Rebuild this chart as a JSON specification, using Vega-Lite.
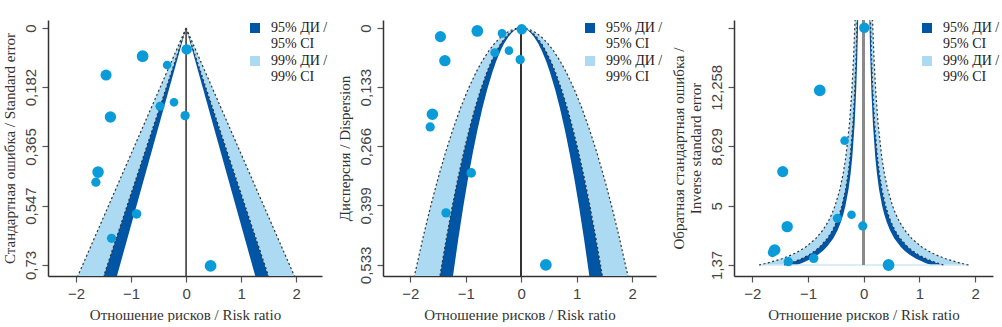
{
  "$schema": "https://vega.github.io/schema/vega-lite/v6.json",
  "padding": {"left": 1, "top": 17, "right": 0, "bottom": 0},
  "spacing": 8,
  "datasets": {
    "studies": [
      {"rr": 0.01, "se": 0.066, "var": 0.003, "inv": 15.9, "w": 11.3},
      {"rr": -0.79, "se": 0.087, "var": 0.0067, "inv": 12.07, "w": 12.7},
      {"rr": -0.345, "se": 0.114, "var": 0.012, "inv": 8.985, "w": 9.3},
      {"rr": -1.455, "se": 0.145, "var": 0.0195, "inv": 7.09, "w": 12},
      {"rr": -0.22, "se": 0.229, "var": 0.051, "inv": 4.45, "w": 9.3},
      {"rr": -0.475, "se": 0.241, "var": 0.0555, "inv": 4.23, "w": 9.7},
      {"rr": -0.018, "se": 0.27, "var": 0.0712, "inv": 3.76, "w": 10},
      {"rr": -1.375, "se": 0.274, "var": 0.0735, "inv": 3.72, "w": 12.3},
      {"rr": -1.6, "se": 0.444, "var": 0.194, "inv": 2.29, "w": 12.5},
      {"rr": -1.64, "se": 0.475, "var": 0.2226, "inv": 2.13, "w": 10},
      {"rr": -0.9, "se": 0.573, "var": 0.326, "inv": 1.78, "w": 10.3},
      {"rr": -1.355, "se": 0.648, "var": 0.416, "inv": 1.57, "w": 10},
      {"rr": 0.445, "se": 0.733, "var": 0.533, "inv": 1.37, "w": 12.7}
    ],
    "f1": [
      {"y": 0, "o_l": 0, "n_l": 0, "i_l": 0, "i_r": 0, "n_r": 0, "o_r": 0},
      {"y": 0.764, "o_l": -1.968, "n_l": -1.497, "i_l": -1.257, "i_r": 1.257, "n_r": 1.497, "o_r": 1.968}
    ],
    "f2": [
      {"y": 0, "o_l": 0, "n_l": 0, "i_l": 0, "i_r": 0, "n_r": 0, "o_r": 0},
      {"y": 0.0005, "o_l": -0.0576, "n_l": -0.0438, "i_l": -0.0368, "i_r": 0.0368, "n_r": 0.0438, "o_r": 0.0576},
      {"y": 0.001, "o_l": -0.0815, "n_l": -0.062, "i_l": -0.052, "i_r": 0.052, "n_r": 0.062, "o_r": 0.0815},
      {"y": 0.002, "o_l": -0.1152, "n_l": -0.0877, "i_l": -0.0736, "i_r": 0.0736, "n_r": 0.0877, "o_r": 0.1152},
      {"y": 0.005, "o_l": -0.1821, "n_l": -0.1386, "i_l": -0.1163, "i_r": 0.1163, "n_r": 0.1386, "o_r": 0.1821},
      {"y": 0.01, "o_l": -0.2576, "n_l": -0.196, "i_l": -0.1645, "i_r": 0.1645, "n_r": 0.196, "o_r": 0.2576},
      {"y": 0.02, "o_l": -0.3643, "n_l": -0.2772, "i_l": -0.2326, "i_r": 0.2326, "n_r": 0.2772, "o_r": 0.3643},
      {"y": 0.035, "o_l": -0.4819, "n_l": -0.3667, "i_l": -0.3077, "i_r": 0.3077, "n_r": 0.3667, "o_r": 0.4819},
      {"y": 0.05, "o_l": -0.576, "n_l": -0.4383, "i_l": -0.3678, "i_r": 0.3678, "n_r": 0.4383, "o_r": 0.576},
      {"y": 0.075, "o_l": -0.7055, "n_l": -0.5368, "i_l": -0.4505, "i_r": 0.4505, "n_r": 0.5368, "o_r": 0.7055},
      {"y": 0.1, "o_l": -0.8146, "n_l": -0.6198, "i_l": -0.5202, "i_r": 0.5202, "n_r": 0.6198, "o_r": 0.8146},
      {"y": 0.14, "o_l": -0.9639, "n_l": -0.7334, "i_l": -0.6155, "i_r": 0.6155, "n_r": 0.7334, "o_r": 0.9639},
      {"y": 0.18, "o_l": -1.0929, "n_l": -0.8316, "i_l": -0.6979, "i_r": 0.6979, "n_r": 0.8316, "o_r": 1.0929},
      {"y": 0.23, "o_l": -1.2354, "n_l": -0.94, "i_l": -0.7889, "i_r": 0.7889, "n_r": 0.94, "o_r": 1.2354},
      {"y": 0.28, "o_l": -1.3631, "n_l": -1.0371, "i_l": -0.8705, "i_r": 0.8705, "n_r": 1.0371, "o_r": 1.3631},
      {"y": 0.34, "o_l": -1.5021, "n_l": -1.1429, "i_l": -0.9592, "i_r": 0.9592, "n_r": 1.1429, "o_r": 1.5021},
      {"y": 0.4, "o_l": -1.6292, "n_l": -1.2396, "i_l": -1.0404, "i_r": 1.0404, "n_r": 1.2396, "o_r": 1.6292},
      {"y": 0.47, "o_l": -1.766, "n_l": -1.3437, "i_l": -1.1278, "i_r": 1.1278, "n_r": 1.3437, "o_r": 1.766},
      {"y": 0.558, "o_l": -1.9242, "n_l": -1.4641, "i_l": -1.2288, "i_r": 1.2288, "n_r": 1.4641, "o_r": 1.9242}
    ],
    "f3": [
      {"y": 1.37, "o_l": -1.8803, "n_l": -1.4307, "i_l": -1.2007, "i_r": 1.2007, "n_r": 1.4307, "o_r": 1.8803},
      {"y": 1.5, "o_l": -1.7173, "n_l": -1.3067, "i_l": -1.0967, "i_r": 1.0967, "n_r": 1.3067, "o_r": 1.7173},
      {"y": 1.75, "o_l": -1.472, "n_l": -1.12, "i_l": -0.94, "i_r": 0.94, "n_r": 1.12, "o_r": 1.472},
      {"y": 2, "o_l": -1.288, "n_l": -0.98, "i_l": -0.8225, "i_r": 0.8225, "n_r": 0.98, "o_r": 1.288},
      {"y": 2.25, "o_l": -1.1449, "n_l": -0.8711, "i_l": -0.7311, "i_r": 0.7311, "n_r": 0.8711, "o_r": 1.1449},
      {"y": 2.5, "o_l": -1.0304, "n_l": -0.784, "i_l": -0.658, "i_r": 0.658, "n_r": 0.784, "o_r": 1.0304},
      {"y": 3, "o_l": -0.8587, "n_l": -0.6533, "i_l": -0.5483, "i_r": 0.5483, "n_r": 0.6533, "o_r": 0.8587},
      {"y": 3.5, "o_l": -0.736, "n_l": -0.56, "i_l": -0.47, "i_r": 0.47, "n_r": 0.56, "o_r": 0.736},
      {"y": 4, "o_l": -0.644, "n_l": -0.49, "i_l": -0.4113, "i_r": 0.4113, "n_r": 0.49, "o_r": 0.644},
      {"y": 4.5, "o_l": -0.5724, "n_l": -0.4356, "i_l": -0.3656, "i_r": 0.3656, "n_r": 0.4356, "o_r": 0.5724},
      {"y": 5, "o_l": -0.5152, "n_l": -0.392, "i_l": -0.329, "i_r": 0.329, "n_r": 0.392, "o_r": 0.5152},
      {"y": 6, "o_l": -0.4293, "n_l": -0.3267, "i_l": -0.2742, "i_r": 0.2742, "n_r": 0.3267, "o_r": 0.4293},
      {"y": 7, "o_l": -0.368, "n_l": -0.28, "i_l": -0.235, "i_r": 0.235, "n_r": 0.28, "o_r": 0.368},
      {"y": 8, "o_l": -0.322, "n_l": -0.245, "i_l": -0.2056, "i_r": 0.2056, "n_r": 0.245, "o_r": 0.322},
      {"y": 10, "o_l": -0.2576, "n_l": -0.196, "i_l": -0.1645, "i_r": 0.1645, "n_r": 0.196, "o_r": 0.2576},
      {"y": 12, "o_l": -0.2147, "n_l": -0.1633, "i_l": -0.1371, "i_r": 0.1371, "n_r": 0.1633, "o_r": 0.2147},
      {"y": 14, "o_l": -0.184, "n_l": -0.14, "i_l": -0.1175, "i_r": 0.1175, "n_r": 0.14, "o_r": 0.184},
      {"y": 16.377, "o_l": -0.1573, "n_l": -0.1197, "i_l": -0.1004, "i_r": 0.1004, "n_r": 0.1197, "o_r": 0.1573}
    ]
  },
  "resolve": {"scale": {"color": "independent", "size": "independent"}, "legend": {"color": "independent"}},
  "hconcat": [
    {
      "width": 274, "height": 256,
      "layer": [
        {"data": {"name": "f1"}, "mark": {"type": "area", "orient": "horizontal"},
         "encoding": {
           "y": {"field": "y", "type": "quantitative", "scale": {"domain": [-0.0246, 0.764], "reverse": true, "nice": false, "zero": false},
                 "axis": {"values": [0, 0.182, 0.365, 0.547, 0.73], "format": ".3~f", "labelExpr": "replace(datum.label, '.', ',')", "labelAngle": -90, "title": "Стандартная ошибка / Standard error"}},
           "x": {"field": "o_l", "type": "quantitative", "scale": {"domain": [-2.51, 2.47], "nice": false, "zero": false},
                 "axis": {"values": [-2, -1, 0, 1, 2], "format": "d", "title": "Отношение рисков / Risk ratio"}},
           "x2": {"field": "n_l"},
           "color": {"datum": "99", "scale": {"domain": ["95", "99"], "range": ["#0055a5", "#abdaf2"]},
                     "legend": {"orient": "none", "legendX": 200, "legendY": 1, "labelExpr": "datum.label == '95' ? ['95% ДИ /', '95% CI'] : ['99% ДИ /', '99% CI']"}}
         }},
        {"data": {"name": "f1"}, "mark": {"type": "area", "orient": "horizontal"},
         "encoding": {"y": {"field": "y", "type": "quantitative"}, "x": {"field": "n_l", "type": "quantitative"}, "x2": {"field": "i_l"}, "color": {"datum": "95"}}},
        {"data": {"name": "f1"}, "mark": {"type": "area", "orient": "horizontal"},
         "encoding": {"y": {"field": "y", "type": "quantitative"}, "x": {"field": "i_r", "type": "quantitative"}, "x2": {"field": "n_r"}, "color": {"datum": "95"}}},
        {"data": {"name": "f1"}, "mark": {"type": "area", "orient": "horizontal"},
         "encoding": {"y": {"field": "y", "type": "quantitative"}, "x": {"field": "n_r", "type": "quantitative"}, "x2": {"field": "o_r"}, "color": {"datum": "99"}}},
        {"data": {"name": "f1"}, "mark": {"type": "line", "color": "#333", "strokeWidth": 1.2, "strokeDash": [2, 2.5]},
         "encoding": {"y": {"field": "y", "type": "quantitative"}, "x": {"field": "o_l", "type": "quantitative"}, "order": {"field": "y"}}},
        {"data": {"name": "f1"}, "mark": {"type": "line", "color": "#333", "strokeWidth": 1.2, "strokeDash": [2, 2.5]},
         "encoding": {"y": {"field": "y", "type": "quantitative"}, "x": {"field": "n_l", "type": "quantitative"}, "order": {"field": "y"}}},
        {"data": {"name": "f1"}, "mark": {"type": "line", "color": "#333", "strokeWidth": 1.2, "strokeDash": [2, 2.5]},
         "encoding": {"y": {"field": "y", "type": "quantitative"}, "x": {"field": "n_r", "type": "quantitative"}, "order": {"field": "y"}}},
        {"data": {"name": "f1"}, "mark": {"type": "line", "color": "#333", "strokeWidth": 1.2, "strokeDash": [2, 2.5]},
         "encoding": {"y": {"field": "y", "type": "quantitative"}, "x": {"field": "o_r", "type": "quantitative"}, "order": {"field": "y"}}},
        {"data": {"name": "f1"}, "mark": {"type": "rule", "color": "#444", "strokeWidth": 1.2},
         "encoding": {"x": {"datum": 0, "type": "quantitative"}, "y": {"datum": 0, "type": "quantitative"}, "y2": {"datum": 0.764}}},
        {"data": {"name": "studies"}, "mark": {"type": "circle", "color": "#0b9bd8", "opacity": 1},
         "encoding": {"x": {"field": "rr", "type": "quantitative"}, "y": {"field": "se", "type": "quantitative"},
                      "size": {"field": "w", "type": "quantitative", "scale": {"type": "pow", "exponent": 2, "domain": [0, 13], "range": [0, 145]}, "legend": null}}}
      ]
    },
    {
      "width": 273, "height": 256,
      "layer": [
        {"data": {"name": "f2"}, "mark": {"type": "area", "orient": "horizontal"},
         "encoding": {
           "y": {"field": "y", "type": "quantitative", "scale": {"domain": [-0.018, 0.558], "reverse": true, "nice": false, "zero": false},
                 "axis": {"values": [0, 0.133, 0.266, 0.399, 0.533], "format": ".3~f", "labelExpr": "replace(datum.label, '.', ',')", "labelAngle": -90, "title": "Дисперсия / Dispersion"}},
           "x": {"field": "o_l", "type": "quantitative", "scale": {"domain": [-2.49, 2.43], "nice": false, "zero": false},
                 "axis": {"values": [-2, -1, 0, 1, 2], "format": "d", "title": "Отношение рисков / Risk ratio"}},
           "x2": {"field": "n_l"},
           "color": {"datum": "99", "scale": {"domain": ["95", "99"], "range": ["#0055a5", "#abdaf2"]},
                     "legend": {"orient": "none", "legendX": 200, "legendY": 1, "labelExpr": "datum.label == '95' ? ['95% ДИ /', '95% CI'] : ['99% ДИ /', '99% CI']"}}
         }},
        {"data": {"name": "f2"}, "mark": {"type": "area", "orient": "horizontal"},
         "encoding": {"y": {"field": "y", "type": "quantitative"}, "x": {"field": "n_l", "type": "quantitative"}, "x2": {"field": "i_l"}, "color": {"datum": "95"}}},
        {"data": {"name": "f2"}, "mark": {"type": "area", "orient": "horizontal"},
         "encoding": {"y": {"field": "y", "type": "quantitative"}, "x": {"field": "i_r", "type": "quantitative"}, "x2": {"field": "n_r"}, "color": {"datum": "95"}}},
        {"data": {"name": "f2"}, "mark": {"type": "area", "orient": "horizontal"},
         "encoding": {"y": {"field": "y", "type": "quantitative"}, "x": {"field": "n_r", "type": "quantitative"}, "x2": {"field": "o_r"}, "color": {"datum": "99"}}},
        {"data": {"name": "f2"}, "mark": {"type": "line", "color": "#333", "strokeWidth": 1.2, "strokeDash": [2, 2.5]},
         "encoding": {"y": {"field": "y", "type": "quantitative"}, "x": {"field": "o_l", "type": "quantitative"}, "order": {"field": "y"}}},
        {"data": {"name": "f2"}, "mark": {"type": "line", "color": "#333", "strokeWidth": 1.2, "strokeDash": [2, 2.5]},
         "encoding": {"y": {"field": "y", "type": "quantitative"}, "x": {"field": "n_l", "type": "quantitative"}, "order": {"field": "y"}}},
        {"data": {"name": "f2"}, "mark": {"type": "line", "color": "#333", "strokeWidth": 1.2, "strokeDash": [2, 2.5]},
         "encoding": {"y": {"field": "y", "type": "quantitative"}, "x": {"field": "n_r", "type": "quantitative"}, "order": {"field": "y"}}},
        {"data": {"name": "f2"}, "mark": {"type": "line", "color": "#333", "strokeWidth": 1.2, "strokeDash": [2, 2.5]},
         "encoding": {"y": {"field": "y", "type": "quantitative"}, "x": {"field": "o_r", "type": "quantitative"}, "order": {"field": "y"}}},
        {"data": {"name": "f2"}, "mark": {"type": "rule", "color": "#333", "strokeWidth": 1.2},
         "encoding": {"x": {"datum": 0, "type": "quantitative"}, "y": {"datum": 0, "type": "quantitative"}, "y2": {"datum": 0.558}}},
        {"data": {"name": "studies"}, "mark": {"type": "circle", "color": "#0b9bd8", "opacity": 1},
         "encoding": {"x": {"field": "rr", "type": "quantitative"}, "y": {"field": "var", "type": "quantitative"},
                      "size": {"field": "w", "type": "quantitative", "scale": {"type": "pow", "exponent": 2, "domain": [0, 13], "range": [0, 145]}, "legend": null}}}
      ]
    },
    {
      "width": 259, "height": 256,
      "layer": [
        {"data": {"name": "f3"}, "mark": {"type": "area", "orient": "horizontal", "clip": true},
         "encoding": {
           "y": {"field": "y", "type": "quantitative", "scale": {"domain": [0.696, 16.377], "nice": false, "zero": false},
                 "axis": {"values": [1.37, 5, 8.629, 12.258, 15.887], "labelExpr": "datum.value > 15 ? '' : replace(datum.label, '.', ',')", "format": ".3~f", "labelAngle": -90, "title": ["Обратная стандартная ошибка /", "Inverse standard error"]}},
           "x": {"field": "o_l", "type": "quantitative", "scale": {"domain": [-2.33, 2.32], "nice": false, "zero": false},
                 "axis": {"values": [-2, -1, 0, 1, 2], "format": "d", "title": "Отношение рисков / Risk ratio"}},
           "x2": {"field": "n_l"},
           "color": {"datum": "99", "scale": {"domain": ["95", "99"], "range": ["#0055a5", "#abdaf2"]},
                     "legend": {"orient": "none", "legendX": 186, "legendY": 1, "labelExpr": "datum.label == '95' ? ['95% ДИ /', '95% CI'] : ['99% ДИ /', '99% CI']"}}
         }},
        {"data": {"name": "f3"}, "mark": {"type": "area", "orient": "horizontal"},
         "encoding": {"y": {"field": "y", "type": "quantitative"}, "x": {"field": "n_l", "type": "quantitative"}, "x2": {"field": "i_l"}, "color": {"datum": "95"}}},
        {"data": {"name": "f3"}, "mark": {"type": "area", "orient": "horizontal"},
         "encoding": {"y": {"field": "y", "type": "quantitative"}, "x": {"field": "i_r", "type": "quantitative"}, "x2": {"field": "n_r"}, "color": {"datum": "95"}}},
        {"data": {"name": "f3"}, "mark": {"type": "area", "orient": "horizontal"},
         "encoding": {"y": {"field": "y", "type": "quantitative"}, "x": {"field": "n_r", "type": "quantitative"}, "x2": {"field": "o_r"}, "color": {"datum": "99"}}},
        {"data": {"name": "f3"}, "transform": [{"filter": "datum.y < 1.4"}], "mark": {"type": "rule", "color": "#cfe9f6", "strokeWidth": 1.5},
         "encoding": {"y": {"field": "y", "type": "quantitative"}, "x": {"field": "o_l", "type": "quantitative"}, "x2": {"field": "o_r"}}},
        {"data": {"name": "f3"}, "mark": {"type": "line", "color": "#333", "strokeWidth": 1.2, "strokeDash": [2, 2.5]},
         "encoding": {"y": {"field": "y", "type": "quantitative"}, "x": {"field": "o_l", "type": "quantitative"}, "order": {"field": "y"}}},
        {"data": {"name": "f3"}, "mark": {"type": "line", "color": "#333", "strokeWidth": 1.2, "strokeDash": [2, 2.5]},
         "encoding": {"y": {"field": "y", "type": "quantitative"}, "x": {"field": "n_l", "type": "quantitative"}, "order": {"field": "y"}}},
        {"data": {"name": "f3"}, "mark": {"type": "line", "color": "#333", "strokeWidth": 1.2, "strokeDash": [2, 2.5]},
         "encoding": {"y": {"field": "y", "type": "quantitative"}, "x": {"field": "n_r", "type": "quantitative"}, "order": {"field": "y"}}},
        {"data": {"name": "f3"}, "mark": {"type": "line", "color": "#333", "strokeWidth": 1.2, "strokeDash": [2, 2.5]},
         "encoding": {"y": {"field": "y", "type": "quantitative"}, "x": {"field": "o_r", "type": "quantitative"}, "order": {"field": "y"}}},
        {"data": {"name": "f3"}, "mark": {"type": "rule", "color": "#8a8a8a", "strokeWidth": 2},
         "encoding": {"x": {"datum": 0, "type": "quantitative"}, "y": {"datum": 1.37, "type": "quantitative"}, "y2": {"datum": 16.377}}},
        {"data": {"name": "studies"}, "mark": {"type": "circle", "color": "#0b9bd8", "opacity": 1},
         "encoding": {"x": {"field": "rr", "type": "quantitative"}, "y": {"field": "inv", "type": "quantitative"},
                      "size": {"field": "w", "type": "quantitative", "scale": {"type": "pow", "exponent": 2, "domain": [0, 13], "range": [0, 145]}, "legend": null}}}
      ]
    }
  ],
  "config": {
    "view": {"stroke": null},
    "axis": {
      "grid": false, "domainColor": "#333", "domainWidth": 1.5, "tickColor": "#555", "tickWidth": 1.2, "tickSize": 6,
      "labelFont": "Liberation Sans", "labelFontSize": 15, "labelColor": "#444", "labelPadding": 4,
      "titleFont": "Liberation Serif", "titleFontSize": 15, "titleFontWeight": "normal", "titleColor": "#333", "titlePadding": 6, "titleLineHeight": 17
    },
    "legend": {
      "title": null, "symbolType": "square", "symbolSize": 100, "symbolStrokeWidth": 0,
      "labelFont": "Liberation Serif", "labelFontSize": 14, "labelColor": "#222", "labelOffset": 9, "rowPadding": 3
    }
  }
}
